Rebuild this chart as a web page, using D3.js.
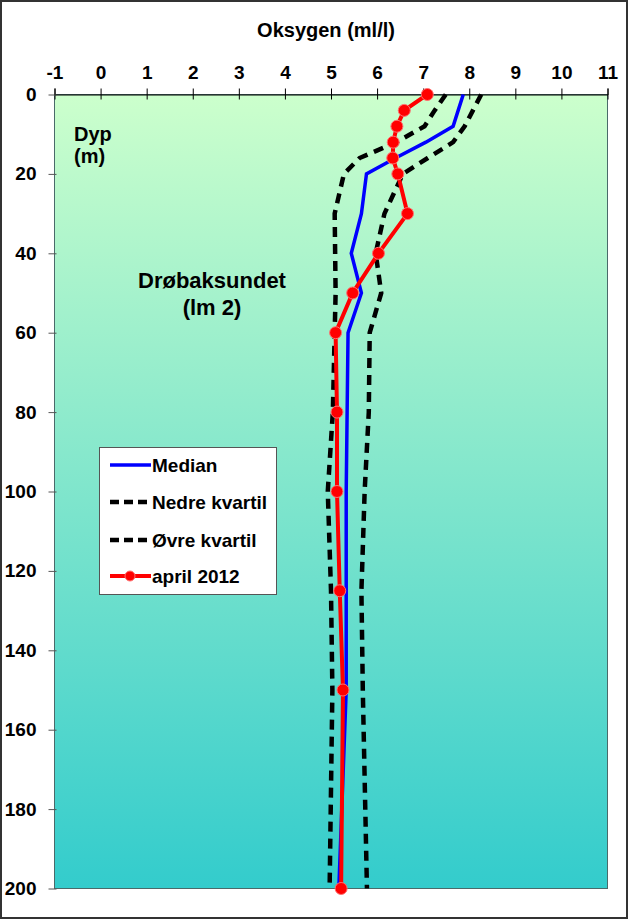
<!DOCTYPE html>
<html><head><meta charset="utf-8">
<script src="https://cdn.jsdelivr.net/npm/d3@7"></script>
<style>html,body{margin:0;padding:0;background:#fff;}svg{display:block;}</style>
</head><body>
<script>
const depths = [0,4,8,12,16,20,30,40,50,60,80,100,125,150,200];
const median = [7.87,7.76,7.65,7.06,6.40,5.77,5.66,5.44,5.66,5.37,5.35,5.33,5.33,5.33,5.17];
const nedre  = [7.49,7.25,7.03,6.42,5.62,5.28,5.08,5.09,5.10,5.08,5.04,4.93,5.00,5.03,4.97];
const ovre   = [8.26,8.08,7.90,7.65,7.10,6.56,6.16,5.97,6.09,5.84,5.82,5.73,5.66,5.69,5.78];
const april  = [7.09,6.59,6.43,6.35,6.34,6.45,6.66,6.03,5.47,5.10,5.13,5.13,5.19,5.26,5.22];
const xTicks = [-1,0,1,2,3,4,5,6,7,8,9,10,11];
const yTicks = [0,20,40,60,80,100,120,140,160,180,200];
const legendLabels = ["Median","Nedre kvartil","Øvre kvartil","april 2012"];

const W=628,H=919;
const L=54.5,R=607.5,T=94.5,B=888.5;
const font="'Liberation Sans', Arial, sans-serif";
const svg=d3.select("body").append("svg").attr("width",W).attr("height",H);

const x=d3.scaleLinear().domain([-1,11]).range([L,R]);
const y=d3.scaleLinear().domain([0,200]).range([T,B]);

const defs=svg.append("defs");
const g=defs.append("linearGradient").attr("id","bg").attr("x1",0).attr("y1",0).attr("x2",0).attr("y2",1);
g.append("stop").attr("offset","0%").attr("stop-color","#CCFFCC");
g.append("stop").attr("offset","100%").attr("stop-color","#33CCCC");

// outer frame
svg.append("rect").attr("x",1).attr("y",1).attr("width",W-2).attr("height",H-2)
  .attr("fill","#fff").attr("stroke","#333").attr("stroke-width",2);

// plot area
svg.append("rect").attr("x",L).attr("y",T).attr("width",R-L).attr("height",B-T)
  .attr("fill","url(#bg)").attr("stroke","#4a6a6a").attr("stroke-width",1);

// top axis
const xa=svg.append("g").attr("transform",`translate(0,${T})`)
  .call(d3.axisTop(x).tickValues(xTicks).tickSize(6).tickPadding(10).tickFormat(d=>String(d)));
xa.select(".domain").attr("stroke","#000");
xa.selectAll(".tick line").attr("stroke","#000").attr("y1",5).attr("y2",-6);
xa.selectAll("text").attr("font-family",font).attr("font-weight","bold").attr("font-size",19).attr("fill","#000");

// left axis
const ya=svg.append("g").attr("transform",`translate(${L},0)`)
  .call(d3.axisLeft(y).tickValues(yTicks).tickSize(6).tickPadding(12));
ya.select(".domain").attr("stroke","none");
ya.selectAll(".tick line").attr("stroke","#555").attr("x1",-6).attr("x2",2);
ya.selectAll("text").attr("font-family",font).attr("font-weight","bold").attr("font-size",19).attr("fill","#000");

// titles
svg.append("text").attr("x",326).attr("y",37).attr("text-anchor","middle")
  .attr("font-family",font).attr("font-weight","bold").attr("font-size",20).text("Oksygen (ml/l)");
svg.append("text").attr("x",74).attr("y",141)
  .attr("font-family",font).attr("font-weight","bold").attr("font-size",20).text("Dyp");
svg.append("text").attr("x",74).attr("y",163)
  .attr("font-family",font).attr("font-weight","bold").attr("font-size",20).text("(m)");
svg.append("text").attr("x",212).attr("y",288).attr("text-anchor","middle")
  .attr("font-family",font).attr("font-weight","bold").attr("font-size",22).text("Drøbaksundet");
svg.append("text").attr("x",212).attr("y",315).attr("text-anchor","middle")
  .attr("font-family",font).attr("font-weight","bold").attr("font-size",22).text("(lm 2)");

const line=d3.line().x(d=>x(d[0])).y(d=>y(d[1]));
const pts=v=>v.map((d,i)=>[d,depths[i]]);

const clip=defs.append("clipPath").attr("id","clip");
clip.append("rect").attr("x",L).attr("y",T-8).attr("width",R-L).attr("height",B-T+16);
const pg=svg.append("g").attr("clip-path","url(#clip)");

pg.append("path").datum(pts(nedre)).attr("d",line).attr("fill","none")
  .attr("stroke","#000").attr("stroke-width",4.5).attr("stroke-dasharray","10,7");
pg.append("path").datum(pts(ovre)).attr("d",line).attr("fill","none")
  .attr("stroke","#000").attr("stroke-width",4.5).attr("stroke-dasharray","10,7");
pg.append("path").datum(pts(median)).attr("d",line).attr("fill","none")
  .attr("stroke","#0000FF").attr("stroke-width",3.5);
pg.append("path").datum(pts(april)).attr("d",line).attr("fill","none")
  .attr("stroke","#FF0000").attr("stroke-width",4);
svg.append("g").selectAll("circle").data(pts(april)).join("circle")
  .attr("cx",d=>x(d[0])).attr("cy",d=>y(d[1])).attr("r",6)
  .attr("fill","#FF0000").attr("stroke","#ff7070").attr("stroke-width",1);

// legend
const lg=svg.append("g");
lg.append("rect").attr("x",99.5).attr("y",447.5).attr("width",177).attr("height",147)
  .attr("fill","#fff").attr("stroke","#555").attr("stroke-width",1);
const ly=[465,502,540,576];
legendLabels.forEach((t,i)=>{
  const yy=ly[i];
  const l=lg.append("line").attr("x1",110).attr("x2",151).attr("y1",yy).attr("y2",yy);
  if(i===0) l.attr("stroke","#0000FF").attr("stroke-width",3.5);
  else if(i<3) l.attr("stroke","#000").attr("stroke-width",4.5).attr("stroke-dasharray","9,5");
  else {
    l.attr("stroke","#FF0000").attr("stroke-width",4);
    lg.append("circle").attr("cx",130).attr("cy",yy).attr("r",5).attr("fill","#FF0000").attr("stroke","#ff7070");
  }
  lg.append("text").attr("x",152).attr("y",yy+7).attr("font-family",font).attr("font-weight","bold")
    .attr("font-size",19).text(t);
});
</script>
</body></html>
